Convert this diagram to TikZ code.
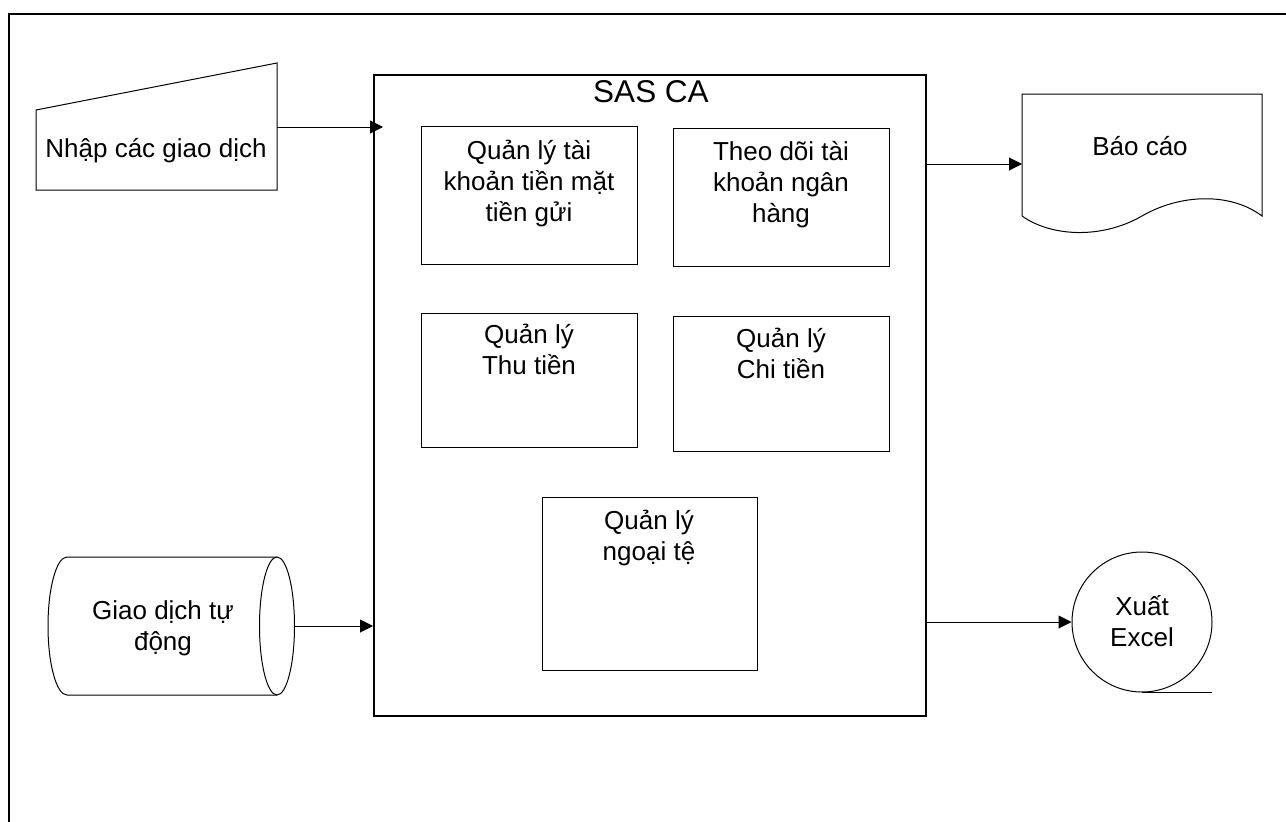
\documentclass[tikz,border=0pt]{standalone}
\usepackage{fontspec}
\setmainfont{Liberation Sans}
\usetikzlibrary{arrows.meta}
\begin{document}
\begin{tikzpicture}[x=1pt,y=-1pt,
  thin line/.style={draw=black, line width=1pt},
  box/.style={draw=black, line width=1pt, inner sep=0pt, anchor=north west},
  lbl/.style={font=\fontsize{26}{31}\selectfont, inner sep=0pt, anchor=base},
  arr/.style={line width=1pt, -{Triangle[length=13pt,width=13pt]}}]
\fill[white] (0,0) rectangle (1286,822);
\useasboundingbox (0,0) rectangle (1286,822);
% outer frame
\draw[line width=2pt] (8.5,822) -- (8.5,14) -- (1286,14);
% main system box
\node[draw=black, line width=2pt, inner sep=0pt, anchor=north west,
      minimum width=552pt, minimum height=641pt] (sas) at (373,74) {};
\node[font=\fontsize{31.5}{36}\selectfont, inner sep=0pt, anchor=base] (sastitle) at (651,102) {SAS CA};
% inner boxes
\node[box, minimum width=216pt, minimum height=138pt] (b1) at (421,126) {};
\node[box, minimum width=216pt, minimum height=138pt] (b2) at (673,128) {};
\node[box, minimum width=216pt, minimum height=134pt] (b3) at (421,313) {};
\node[box, minimum width=216pt, minimum height=135pt] (b4) at (673,316) {};
\node[box, minimum width=215pt, minimum height=173pt] (b5) at (542,497) {};
\node[lbl] (t1) at (529,159) {\begin{tabular}[t]{@{}c@{}}Quản lý tài\\khoản tiền mặt\\tiền gửi\end{tabular}};
\node[lbl] (t2) at (781,160) {\begin{tabular}[t]{@{}c@{}}Theo dõi tài\\khoản ngân\\hàng\end{tabular}};
\node[lbl] (t3) at (529,343) {\begin{tabular}[t]{@{}c@{}}Quản lý\\Thu tiền\end{tabular}};
\node[lbl] (t4) at (781,347) {\begin{tabular}[t]{@{}c@{}}Quản lý\\Chi tiền\end{tabular}};
\node[lbl] (t5) at (649,529) {\begin{tabular}[t]{@{}c@{}}Quản lý\\ngoại tệ\end{tabular}};
% manual input
\draw[thin line] (36,110) -- (277,63) -- (277,190) -- (36,190) -- cycle;
\coordinate (nhapR) at (277,127);
\node[lbl] (nhap) at (156,157) {Nhập các giao dịch};
% drum
\draw[thin line] (277,557) -- (67,557) arc[start angle=90, end angle=270, x radius=19pt, y radius=69pt] -- (277,695);
\draw[thin line] (277,626) ellipse [x radius=17.5pt, y radius=69pt];
\coordinate (drumR) at (294.5,626);
\node[lbl] (drum) at (163,619) {\begin{tabular}[t]{@{}c@{}}Giao dịch tự\\động\end{tabular}};
% document
\draw[thin line] (1022,216) -- (1022,94) -- (1262,94) -- (1262,216)
  .. controls (1230,192) and (1180,194) .. (1142,216)
  .. controls (1100,240) and (1050,236) .. (1022,216);
\coordinate (docL) at (1022,164);
\node[lbl] (bao) at (1140,155) {Báo cáo};
% magnetic tape
\node[draw=black, line width=1pt, circle, minimum size=140pt, inner sep=0pt] (xe) at (1142,622) {};
\draw[thin line] (xe.south) -- ++(70,0);
\node[lbl] (xet) at (1142,615) {\begin{tabular}[t]{@{}c@{}}Xuất\\Excel\end{tabular}};
% connectors
\draw[arr, shorten >=-10pt] (nhapR) -- (nhapR -| sas.west);
\draw[arr] (drumR) -- (drumR -| sas.west);
\draw[arr] (sas.east |- docL) -- (docL);
\draw[arr] (sas.east |- xe.west) -- (xe.west);
\end{tikzpicture}
\end{document}
